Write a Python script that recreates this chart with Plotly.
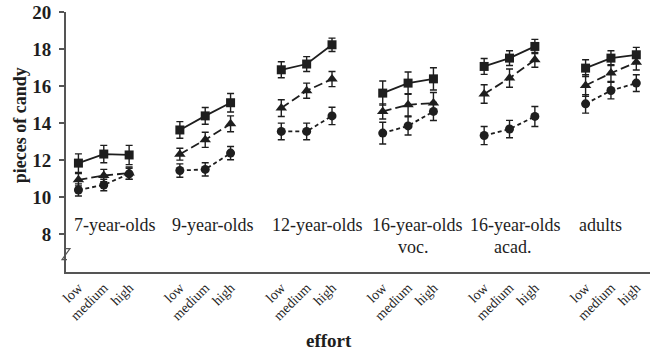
import plotly.graph_objects as go

groups = ["7-year-olds", "9-year-olds", "12-year-olds", "16-year-olds", "16-year-olds", "adults"]
group_sub = ["", "", "", "voc.", "acad.", ""]
effort = ["low", "medium", "high"]

squares = [11.84, 12.33, 12.28, 13.63, 14.39, 15.10, 16.88, 17.19, 18.23,
           15.62, 16.16, 16.39, 17.06, 17.51, 18.14, 16.97, 17.51, 17.69]
squares_err = [0.50, 0.47, 0.52, 0.45, 0.45, 0.50, 0.43, 0.40, 0.36,
               0.65, 0.60, 0.60, 0.43, 0.40, 0.38, 0.45, 0.40, 0.40]
triangles = [10.94, 11.17, 11.30, 12.32, 13.10, 13.96, 14.81, 15.75, 16.38,
             14.63, 14.99, 15.08, 15.57, 16.43, 17.42, 16.03, 16.70, 17.28]
triangles_err = [0.33, 0.33, 0.33, 0.32, 0.41, 0.43, 0.45, 0.41, 0.41,
                 0.41, 0.60, 0.57, 0.50, 0.49, 0.40, 0.58, 0.45, 0.41]
circles = [10.39, 10.66, 11.26, 11.44, 11.50, 12.38, 13.55, 13.55, 14.39,
           13.46, 13.85, 14.63, 13.33, 13.68, 14.36, 15.04, 15.76, 16.16]
circles_err = [0.33, 0.31, 0.30, 0.36, 0.36, 0.36, 0.45, 0.45, 0.47,
               0.59, 0.49, 0.49, 0.49, 0.47, 0.54, 0.50, 0.45, 0.45]

yticks = [8, 10, 12, 14, 16, 18, 20]

# positions: 3 points per group, one empty slot between groups
xpos, xlab = [], []
for g in range(len(groups)):
    for k in range(len(effort)):
        xpos.append(g * 4 + k)
        xlab.append(effort[k])


def with_gaps(vals):
    out = []
    for g in range(len(groups)):
        out += vals[g * 3:(g + 1) * 3] + [None]
    return out


xg = with_gaps(xpos)
ink = "#1e1e1e"
SERIF = "Liberation Serif, Times New Roman, serif"

fig = go.Figure()
series = [
    (squares, squares_err, "square", "solid", 9),
    (triangles, triangles_err, "triangle-up", "9px,4px", 10),
    (circles, circles_err, "circle", "4px,3px", 9),
]
for vals, errs, sym, dash, msz in series:
    fig.add_trace(go.Scatter(
        x=xg, y=with_gaps(vals), mode="lines+markers", connectgaps=False,
        line=dict(color=ink, width=1.8, dash=dash),
        marker=dict(symbol=sym, size=msz, color=ink),
        error_y=dict(type="data", array=with_gaps(errs), visible=True,
                     color=ink, thickness=1.4, width=3.5),
        showlegend=False, hoverinfo="skip",
    ))

# group labels
label_x = [1.44, 5.31, 9.43, 13.37, 17.22, 20.57]
sub_x = [None, None, None, 13.2, 17.13, None]
for g in range(len(groups)):
    fig.add_annotation(x=label_x[g], y=8.5, xref="x", yref="y", text=groups[g],
                       showarrow=False, xanchor="center", yanchor="middle",
                       font=dict(family=SERIF, size=18, color=ink))
    if group_sub[g]:
        fig.add_annotation(x=sub_x[g], y=7.3, xref="x", yref="y", text=group_sub[g],
                           showarrow=False, xanchor="center", yanchor="middle",
                           font=dict(family=SERIF, size=18, color=ink))

# axis titles
fig.add_annotation(x=-0.0786, y=0.565, xref="paper", yref="paper", text="pieces of candy",
                   textangle=-90, showarrow=False, xanchor="center", yanchor="middle",
                   font=dict(family=SERIF, size=18, color=ink, weight="bold"))
fig.add_annotation(x=0.451, y=-0.265, xref="paper", yref="paper", text="effort",
                   showarrow=False, xanchor="center", yanchor="middle",
                   font=dict(family=SERIF, size=19, color=ink, weight="bold"))

# axis break mark
fig.add_shape(type="path", xref="paper", yref="y", xsizemode="pixel", ysizemode="pixel",
              xanchor=0, yanchor=6.9, path="M -1,6 L 4,6 L -4,-5 L 1,-5",
              line=dict(color="#555", width=1.2))

fig.update_layout(
    width=651, height=353,
    margin=dict(l=66, r=1, t=12, b=81),
    paper_bgcolor="white", plot_bgcolor="white",
    font=dict(family=SERIF, color=ink),
    xaxis=dict(range=[-0.49, 22.54], tickvals=xpos, ticktext=xlab, tickangle=-45,
               showline=True, linecolor="#555", linewidth=2, ticks="", showgrid=False,
               zeroline=False, automargin=False,
               tickfont=dict(family=SERIF, size=14, color=ink)),
    yaxis=dict(range=[5.96, 20], tickvals=yticks, showline=True, linecolor="#555",
               linewidth=2, ticks="outside", ticklen=5, tickwidth=1.5, tickcolor="#555",
               showgrid=False, zeroline=False, ticklabelstandoff=4, automargin=False,
               tickfont=dict(family=SERIF, size=19, color=ink, weight="bold")),
)

fig.write_html("out.html", config={"displayModeBar": False},
               post_script="document.body.style.margin='0';document.body.style.overflow='hidden';")
